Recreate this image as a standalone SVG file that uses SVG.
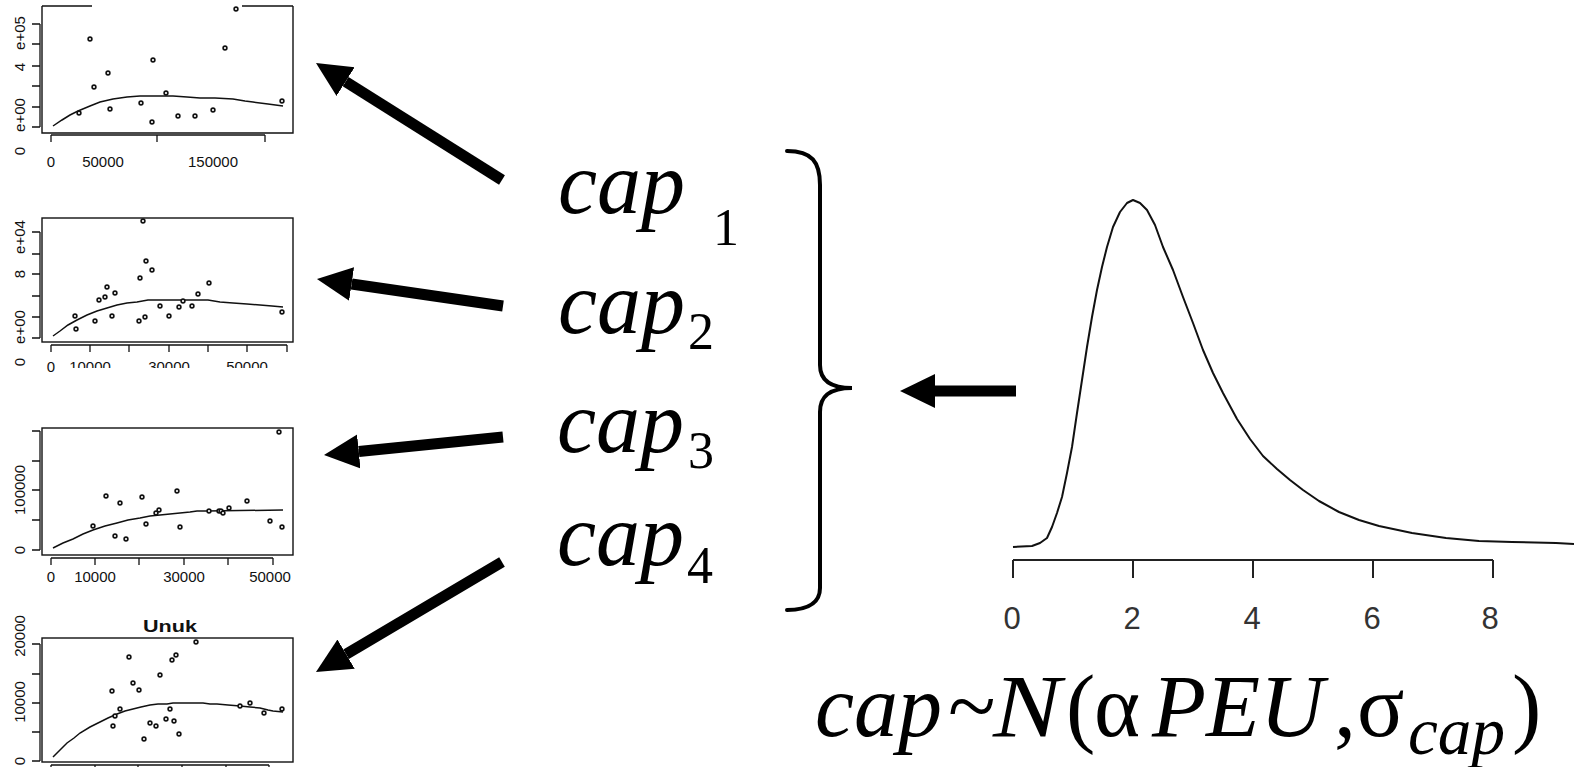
<svg xmlns="http://www.w3.org/2000/svg" width="1579" height="767" viewBox="0 0 1579 767">
<style>
.bx{fill:none;stroke:#111;stroke-width:1.4}
.ax{fill:none;stroke:#111;stroke-width:1.3}
.fit{fill:none;stroke:#111;stroke-width:1.5}
.pt{fill:#fff;stroke:#111;stroke-width:1.6}
.tl{font-family:"Liberation Sans",Arial,sans-serif;font-size:15px;fill:#111;text-anchor:middle}
.cap{font-family:"Liberation Serif","Times New Roman",serif;font-style:italic;font-size:88px;fill:#000}
.sub{font-family:"Liberation Serif","Times New Roman",serif;font-size:52px;fill:#000}
.up{font-family:"Liberation Serif","Times New Roman",serif;font-style:normal}
.arr{stroke:#000;stroke-width:11;fill:none;marker-end:url(#ah)}
.dl{font-family:"Liberation Sans",Arial,sans-serif;font-size:31px;fill:#333;text-anchor:middle}
</style>
<defs>
<marker id="ah" viewBox="0 -18 36 36" refX="0" refY="0" markerWidth="36" markerHeight="36" markerUnits="userSpaceOnUse" orient="auto"><path d="M0,-17 L35,0 L0,17 z" fill="#000"/></marker>
<clipPath id="clip2"><rect x="70" y="340" width="240" height="28"/></clipPath>
</defs>
<rect width="1579" height="767" fill="#fff"/>

<g id="plot1">
<path class="bx" d="M42,6 V133 H293 V6 M42,6 H92 M242,6 H293"/>
<path class="ax" d="M40,24 V127 M32,24 H40 M32,44 H40 M32,66 H40 M32,86 H40 M32,107 H40 M32,127 H40"/>
<path class="ax" d="M51,135 H265 M51,135 V142 M157,135 V142 M265,135 V142"/>
<text class="tl" transform="translate(25,33) rotate(-90)">e+05</text>
<text class="tl" transform="translate(25,67) rotate(-90)">4</text>
<text class="tl" transform="translate(25,115) rotate(-90)">e+00</text>
<text class="tl" transform="translate(25,151) rotate(-90)">0</text>
<text class="tl" x="51" y="167">0</text>
<text class="tl" x="103" y="167">50000</text>
<text class="tl" x="213" y="167">150000</text>
<polyline class="fit" points="53,126 62,120 70,115 78,111 90,106 100,102 113,99 127,97 140,96 150,96 173,96 187,97 200,98 215,98 233,99 245,101 253,102 268,104 283,106"/>
<g>
<circle class="pt" cx="79" cy="113" r="1.9"/><circle class="pt" cx="90" cy="39" r="1.9"/><circle class="pt" cx="94" cy="87" r="1.9"/><circle class="pt" cx="108" cy="73" r="1.9"/><circle class="pt" cx="110" cy="109" r="1.9"/><circle class="pt" cx="141" cy="103" r="1.9"/><circle class="pt" cx="152" cy="122" r="1.9"/><circle class="pt" cx="153" cy="60" r="1.9"/><circle class="pt" cx="166" cy="93" r="1.9"/><circle class="pt" cx="178" cy="116" r="1.9"/><circle class="pt" cx="195" cy="116" r="1.9"/><circle class="pt" cx="213" cy="110" r="1.9"/><circle class="pt" cx="225" cy="48" r="1.9"/><circle class="pt" cx="236" cy="9" r="1.9"/><circle class="pt" cx="282" cy="101" r="1.9"/>
</g>
</g>

<g id="plot2">
<rect class="bx" x="42" y="218" width="251" height="124"/>
<path class="ax" d="M40,232 V338 M32,232 H40 M32,254 H40 M32,274 H40 M32,296 H40 M32,317 H40 M32,338 H40"/>
<path class="ax" d="M51,345 H287 M51,345 V352 M90,345 V352 M129,345 V352 M169,345 V352 M208,345 V352 M247,345 V352 M287,345 V352"/>
<text class="tl" transform="translate(25,237) rotate(-90)">e+04</text>
<text class="tl" transform="translate(25,274) rotate(-90)">8</text>
<text class="tl" transform="translate(25,327) rotate(-90)">e+00</text>
<text class="tl" transform="translate(25,362) rotate(-90)">0</text>
<text class="tl" x="51" y="372">0</text>
<g clip-path="url(#clip2)">
<text class="tl" x="90" y="372">10000</text>
<text class="tl" x="169" y="372">30000</text>
<text class="tl" x="247" y="372">50000</text>
</g>
<polyline class="fit" points="53,336 60,331 68,325 77,320 87,315 97,311 107,308 117,305 127,303 137,302 148,300 208,300 220,302 233,303 247,304 260,305 272,306 283,307"/>
<g>
<circle class="pt" cx="75" cy="316" r="1.9"/><circle class="pt" cx="76" cy="329" r="1.9"/><circle class="pt" cx="95" cy="321" r="1.9"/><circle class="pt" cx="99" cy="300" r="1.9"/><circle class="pt" cx="105" cy="297" r="1.9"/><circle class="pt" cx="107" cy="287" r="1.9"/><circle class="pt" cx="112" cy="316" r="1.9"/><circle class="pt" cx="115" cy="293" r="1.9"/><circle class="pt" cx="139" cy="321" r="1.9"/><circle class="pt" cx="140" cy="278" r="1.9"/><circle class="pt" cx="143" cy="221" r="1.9"/><circle class="pt" cx="145" cy="317" r="1.9"/><circle class="pt" cx="146" cy="261" r="1.9"/><circle class="pt" cx="152" cy="270" r="1.9"/><circle class="pt" cx="160" cy="306" r="1.9"/><circle class="pt" cx="169" cy="316" r="1.9"/><circle class="pt" cx="179" cy="307" r="1.9"/><circle class="pt" cx="183" cy="301" r="1.9"/><circle class="pt" cx="192" cy="306" r="1.9"/><circle class="pt" cx="198" cy="294" r="1.9"/><circle class="pt" cx="209" cy="283" r="1.9"/><circle class="pt" cx="282" cy="312" r="1.9"/>
</g>
</g>

<g id="plot3">
<rect class="bx" x="42" y="428" width="251" height="127"/>
<path class="ax" d="M40,431 V550 M32,431 H40 M32,461 H40 M32,490 H40 M32,520 H40 M32,550 H40"/>
<path class="ax" d="M51,558 H273 M51,558 V565 M95,558 V565 M139,558 V565 M184,558 V565 M228,558 V565 M273,558 V565"/>
<text class="tl" transform="translate(25,490) rotate(-90)">100000</text>
<text class="tl" transform="translate(25,550) rotate(-90)">0</text>
<text class="tl" x="51" y="582">0</text>
<text class="tl" x="95" y="582">10000</text>
<text class="tl" x="184" y="582">30000</text>
<text class="tl" x="270" y="582">50000</text>
<polyline class="fit" points="53,548 63,543 73,539 83,534 93,530 105,526 117,523 128,520 140,518 150,516 160,515 170,514 180,513 190,512 197,511 207,511 283,510"/>
<g>
<circle class="pt" cx="93" cy="526" r="1.9"/><circle class="pt" cx="106" cy="496" r="1.9"/><circle class="pt" cx="115" cy="536" r="1.9"/><circle class="pt" cx="120" cy="503" r="1.9"/><circle class="pt" cx="126" cy="539" r="1.9"/><circle class="pt" cx="142" cy="497" r="1.9"/><circle class="pt" cx="146" cy="524" r="1.9"/><circle class="pt" cx="156" cy="513" r="1.9"/><circle class="pt" cx="159" cy="510" r="1.9"/><circle class="pt" cx="177" cy="491" r="1.9"/><circle class="pt" cx="180" cy="527" r="1.9"/><circle class="pt" cx="209" cy="511" r="1.9"/><circle class="pt" cx="219" cy="511" r="1.9"/><circle class="pt" cx="221" cy="511" r="1.9"/><circle class="pt" cx="223" cy="513" r="1.9"/><circle class="pt" cx="229" cy="508" r="1.9"/><circle class="pt" cx="247" cy="501" r="1.9"/><circle class="pt" cx="270" cy="521" r="1.9"/><circle class="pt" cx="279" cy="432" r="1.9"/><circle class="pt" cx="282" cy="527" r="1.9"/>
</g>
</g>

<g id="plot4">
<text x="170" y="632" font-family="Liberation Sans, Arial, sans-serif" font-weight="bold" font-size="17" text-anchor="middle" fill="#111" textLength="54" lengthAdjust="spacingAndGlyphs">Unuk</text>
<rect class="bx" x="42" y="638" width="251" height="124"/>
<path class="ax" d="M40,644 V761 M32,644 H40 M32,674 H40 M32,703 H40 M32,732 H40 M32,761 H40"/>
<path class="ax" d="M51,765 H269 M51,765 V772 M95,765 V772 M138,765 V772 M182,765 V772 M226,765 V772 M269,765 V772"/>
<text class="tl" transform="translate(25,636) rotate(-90)">20000</text>
<text class="tl" transform="translate(25,702) rotate(-90)">10000</text>
<text class="tl" transform="translate(25,761) rotate(-90)">0</text>
<polyline class="fit" points="53,757 60,750 67,743 74,738 80,733 90,727 100,722 108,718 117,714 125,711 133,709 141,707 150,705 158,704 167,704 173,703 203,703 210,704 217,704 228,705 240,706 250,707 260,708 268,710 273,711 283,712"/>
<g>
<circle class="pt" cx="112" cy="691" r="1.9"/><circle class="pt" cx="113" cy="726" r="1.9"/><circle class="pt" cx="115" cy="716" r="1.9"/><circle class="pt" cx="120" cy="709" r="1.9"/><circle class="pt" cx="129" cy="657" r="1.9"/><circle class="pt" cx="133" cy="683" r="1.9"/><circle class="pt" cx="139" cy="690" r="1.9"/><circle class="pt" cx="144" cy="739" r="1.9"/><circle class="pt" cx="150" cy="723" r="1.9"/><circle class="pt" cx="156" cy="726" r="1.9"/><circle class="pt" cx="160" cy="675" r="1.9"/><circle class="pt" cx="166" cy="719" r="1.9"/><circle class="pt" cx="170" cy="709" r="1.9"/><circle class="pt" cx="172" cy="660" r="1.9"/><circle class="pt" cx="174" cy="721" r="1.9"/><circle class="pt" cx="176" cy="655" r="1.9"/><circle class="pt" cx="179" cy="734" r="1.9"/><circle class="pt" cx="196" cy="642" r="1.9"/><circle class="pt" cx="240" cy="706" r="1.9"/><circle class="pt" cx="250" cy="703" r="1.9"/><circle class="pt" cx="264" cy="713" r="1.9"/><circle class="pt" cx="282" cy="709" r="1.9"/>
</g>
</g>

<g id="cap1"><text class="cap" x="558" y="213">cap</text><text class="sub" x="713" y="245">1</text></g>
<g id="cap2"><text class="cap" x="558" y="333">cap</text><text class="sub" x="688" y="349">2</text></g>
<g id="cap3"><text class="cap" x="557" y="452">cap</text><text class="sub" x="688" y="468">3</text></g>
<g id="cap4"><text class="cap" x="557" y="565">cap</text><text class="sub" x="687" y="583">4</text></g>

<g id="brace">
<path d="M787,151 C812,151 820,162 820,185 L820,365 C820,380 830,388 852,388 C830,388 820,396 820,412 L820,588 C820,600 812,610 787,610" fill="none" stroke="#000" stroke-width="4" stroke-linecap="round"/>
</g>

<g id="density">
<polyline points="1013,547 1032,546 1040,543 1047,538 1052,527 1057,513 1062,497 1067,473 1072,447 1077,413 1082,380 1087,347 1092,317 1097,290 1102,267 1107,247 1113,227 1120,212 1127,203 1133,200 1140,203 1147,210 1155,225 1163,247 1173,270 1183,297 1193,323 1203,350 1213,373 1223,393 1237,419 1250,439 1263,456 1277,469 1290,480 1303,490 1319,501 1339,512 1359,520 1379,526 1412,533 1446,538 1479,541 1512,542 1556,543 1574,544" fill="none" stroke="#111" stroke-width="2" stroke-linejoin="round"/>
<path d="M1013,560 H1493 M1013,560 V578 M1133,560 V578 M1253,560 V578 M1373,560 V578 M1493,560 V578" fill="none" stroke="#222" stroke-width="2"/>
<text class="dl" x="1012" y="629">0</text>
<text class="dl" x="1132" y="629">2</text>
<text class="dl" x="1252" y="629">4</text>
<text class="dl" x="1372" y="629">6</text>
<text class="dl" x="1490" y="629">8</text>
</g>

<g id="formula">
<text class="cap" y="736"><tspan x="815">cap</tspan><tspan class="up" x="948">~</tspan><tspan x="993" textLength="68" lengthAdjust="spacingAndGlyphs">N</tspan><tspan class="up" x="1066">(</tspan><tspan class="up" x="1094">α</tspan><tspan x="1152" textLength="172" lengthAdjust="spacingAndGlyphs">PEU</tspan><tspan class="up" x="1334">,</tspan><tspan class="up" x="1357">σ</tspan><tspan x="1408" y="754" font-size="68" textLength="97" lengthAdjust="spacingAndGlyphs">cap</tspan><tspan class="up" x="1512" y="736">)</tspan></text>
</g>

<g id="connectors">
<line class="arr" x1="502" y1="180" x2="345.6" y2="81.6"/>
<line class="arr" x1="503" y1="306" x2="351.6" y2="284"/>
<line class="arr" x1="503" y1="437" x2="358.8" y2="451.5"/>
<line class="arr" x1="502" y1="562" x2="346.1" y2="654.2"/>
<line class="arr" x1="1016" y1="391" x2="935" y2="391"/>
</g>
</svg>
